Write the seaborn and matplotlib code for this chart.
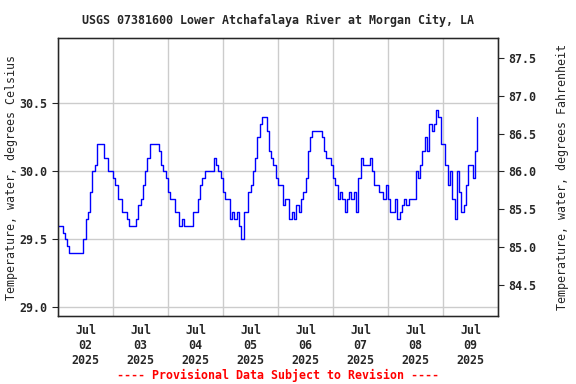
"""USGS 07381600 water temperature, Jul 2-9 2025."""

import matplotlib

matplotlib.use("Agg")
import matplotlib.dates as mdates
import matplotlib.pyplot as plt
import pandas as pd
import seaborn as sns

TITLE = "USGS 07381600 Lower Atchafalaya River at Morgan City, LA"
START = "2025-07-02 00:00"

# hourly water temperature (deg C), from Jul 2 00:00
temp_jul02_03 = [
    29.60, 29.60, 29.55, 29.50, 29.45, 29.40, 29.40, 29.40, 29.40, 29.40,
    29.40, 29.50, 29.65, 29.70, 29.85, 30.00, 30.05, 30.20, 30.20, 30.20,
    30.10, 30.10, 30.00, 30.00, 29.95, 29.90, 29.80, 29.80, 29.70, 29.70,
    29.65, 29.60, 29.60, 29.60, 29.65, 29.75, 29.80, 29.90, 30.00, 30.10,
    30.20, 30.20, 30.20, 30.20, 30.15, 30.05, 30.00, 29.95,
]
temp_jul04_05 = [
    29.85, 29.80, 29.80, 29.70, 29.70, 29.60, 29.65, 29.60, 29.60, 29.60,
    29.60, 29.70, 29.70, 29.80, 29.90, 29.95, 30.00, 30.00, 30.00, 30.00,
    30.10, 30.05, 30.00, 29.95, 29.85, 29.80, 29.80, 29.65, 29.70, 29.65,
    29.70, 29.60, 29.50, 29.70, 29.70, 29.85, 29.90, 30.00, 30.10, 30.25,
    30.35, 30.40, 30.40, 30.30, 30.15, 30.10, 30.05, 29.95, 29.90,
]
temp_jul06_07 = [
    29.90, 29.75, 29.80, 29.80, 29.65, 29.70, 29.65, 29.75, 29.70, 29.80,
    29.85, 29.95, 30.15, 30.25, 30.30, 30.30, 30.30, 30.30, 30.25, 30.15,
    30.10, 30.10, 30.05, 29.95, 29.90, 29.80, 29.85, 29.80, 29.70, 29.80,
    29.85, 29.80, 29.85, 29.70, 29.95, 30.10, 30.05, 30.05, 30.05, 30.10,
    30.00, 29.90, 29.90, 29.85, 29.85, 29.80, 29.90,
]
temp_jul08_09 = [
    29.80, 29.70, 29.70, 29.80, 29.65, 29.70, 29.75, 29.80, 29.75, 29.80,
    29.80, 29.80, 30.00, 29.95, 30.05, 30.15, 30.25, 30.15, 30.35, 30.30,
    30.35, 30.45, 30.40, 30.20, 30.20, 30.05, 29.90, 30.00, 29.80, 29.65,
    30.00, 29.85, 29.70, 29.75, 29.90, 30.05, 30.05, 29.95, 30.15, 30.40,
]

temps = temp_jul02_03 + temp_jul04_05 + temp_jul06_07 + temp_jul08_09
df = pd.DataFrame({
    "time": pd.date_range(START, periods=len(temps), freq="h"),
    "temp_c": temps,
})

c_ticks = [29.0, 29.5, 30.0, 30.5]
f_ticks = [84.5, 85.0, 85.5, 86.0, 86.5, 87.0, 87.5]

sns.set_style("white")
plt.rcParams["font.family"] = ["DejaVu Sans Mono"]
plt.rcParams["font.size"] = 8.4
plt.rcParams["font.weight"] = "bold"

fig = plt.figure(figsize=(5.76, 3.84), dpi=100)
ax = fig.add_axes([0.1007, 0.177, 0.764, 0.724])

sns.lineplot(data=df, x="time", y="temp_c", ax=ax, color="#0000ff",
             linewidth=1.0, drawstyle="steps-post")

ax.set_xlim(pd.Timestamp("2025-07-02"), pd.Timestamp("2025-07-10"))
ax.set_ylim(28.936, 30.98)
ax.set_yticks(c_ticks)
ax.set_yticklabels([f"{t:.1f}" for t in c_ticks])

ax.xaxis.set_major_locator(mdates.HourLocator(byhour=12))
ax.xaxis.set_major_formatter(mdates.DateFormatter("%b\n%d\n%Y"))
ax.xaxis.set_minor_locator(mdates.DayLocator())
ax.tick_params(axis="x", which="both", length=0, pad=6)
ax.tick_params(axis="y", length=4, direction="out")
ax.grid(False, axis="x", which="major")
ax.grid(True, axis="x", which="minor", color="#cccccc", linewidth=1)
ax.grid(True, axis="y", color="#cccccc", linewidth=1)
ax.set_axisbelow(True)
for s in ax.spines.values():
    s.set_color("black")
    s.set_linewidth(1)

ax.set_xlabel("")
ax.set_ylabel("Temperature, water, degrees Celsius")
ax.yaxis.set_label_coords(-0.091, 0.5)

ax2 = ax.twinx()
lo, hi = ax.get_ylim()
ax2.set_ylim(lo * 1.8 + 32, hi * 1.8 + 32)
ax2.set_yticks(f_ticks)
ax2.set_yticklabels([f"{t:.1f}" for t in f_ticks])
ax2.tick_params(axis="y", length=4, direction="out")
ax2.set_ylabel("Temperature, water, degrees Fahrenheit")
ax2.yaxis.set_label_coords(1.131, 0.5)

fig.text(0.483, 0.948, TITLE, ha="center", va="center")
fig.text(0.483, 0.022, "---- Provisional Data Subject to Revision ----",
         ha="center", va="center", color="red")

fig.savefig("out.png", dpi=100)
